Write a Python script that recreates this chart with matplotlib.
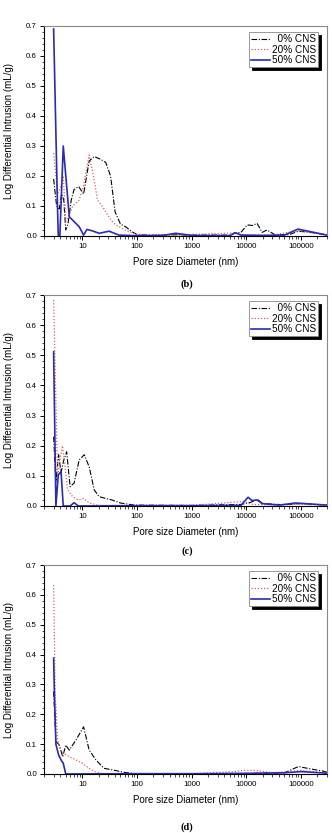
import numpy as np
import matplotlib
matplotlib.use("Agg")
import matplotlib.pyplot as plt
from matplotlib.ticker import FixedLocator, LogLocator, MultipleLocator, NullFormatter

plt.rcParams["font.family"] = ["Liberation Sans", "DejaVu Sans"]

# ---- panel (b) ----
b_x0 = [3.0, 3.4, 3.8, 4.2, 4.6, 5.0, 5.5, 6.3, 7.1, 8.6, 10.6, 13.4, 16.6, 22, 27, 33, 40, 50, 63, 80, 100,
        200, 500, 1000, 5000, 6300, 8000, 10400, 13000, 15800, 19500, 24000, 33000, 60000, 90000, 150000, 300000]
b_y0 = [0.19, 0.10, 0.09, 0.14, 0.12, 0.02, 0.04, 0.12, 0.155, 0.165, 0.14, 0.25, 0.265, 0.255, 0.245, 0.20, 0.08,
        0.04, 0.03, 0.015, 0.005, 0.002, 0.004, 0.003, 0.003, 0.01, 0.012, 0.037, 0.035, 0.042, 0.012, 0.02, 0.005,
        0.004, 0.016, 0.012, 0.003]
b_x20 = [3.0, 3.55, 4.0, 4.5, 5.0, 5.5, 6.7, 8.8, 10.6, 13.4, 16.6, 19, 23.5, 33.5, 41, 60, 100,
         500, 1000, 6000, 10000, 30000, 90000, 300000]
b_y20 = [0.276, 0.142, 0.16, 0.20, 0.05, 0.06, 0.10, 0.12, 0.17, 0.27, 0.187, 0.12, 0.098, 0.053, 0.037, 0.02,
         0.005, 0.004, 0.005, 0.01, 0.003, 0.003, 0.018, 0.004]
b_x50 = [3.0, 3.55, 3.65, 3.9, 4.5, 5.8, 8.8, 10.6, 12.2, 15.4, 20.4, 31, 47, 100, 300, 513, 1000,
         5000, 6300, 8000, 20000, 50000, 88500, 300000]
b_y50 = [0.69, 0.081, 0.0, 0.0, 0.30, 0.064, 0.031, 0.003, 0.022, 0.017, 0.009, 0.016, 0.003, 0.001, 0.002,
         0.009, 0.002, 0.001, 0.011, 0.003, 0.002, 0.003, 0.023, 0.003]

# ---- panel (c) ----
c_x0 = [3.0, 3.3, 3.7, 4.1, 4.6, 5.2, 6.0, 7.1, 8.8, 10.9, 13.4, 16.6, 20.4, 27, 35, 50, 90,
        1000, 8000, 12000, 16000, 20000, 50000, 100000, 300000]
c_y0 = [0.23, 0.08, 0.17, 0.11, 0.153, 0.18, 0.064, 0.076, 0.153, 0.17, 0.13, 0.053, 0.031, 0.025, 0.02,
        0.01, 0.003, 0.002, 0.005, 0.012, 0.022, 0.008, 0.004, 0.008, 0.003]
c_x20 = [3.0, 3.55, 4.0, 4.35, 4.8, 5.4, 6.7, 8.5, 10.6, 13.4, 20, 100, 1000, 9000, 12000, 30000, 100000, 300000]
c_y20 = [0.683, 0.097, 0.164, 0.20, 0.14, 0.053, 0.031, 0.02, 0.025, 0.01, 0.002, 0.002, 0.002, 0.015,
         0.006, 0.003, 0.006, 0.002]
c_x50 = [3.0, 3.3, 3.65, 4.1, 4.5, 6.0, 7.1, 8.5, 100, 1000, 8000, 10800, 12800, 15800, 19500, 40000, 80000,
         300000]
c_y50 = [0.512, 0.0, 0.103, 0.114, 0.0, 0.0, 0.011, 0.0, 0.001, 0.001, 0.002, 0.029, 0.018, 0.02, 0.008,
         0.003, 0.01, 0.003]

# ---- panel (d) ----
d_x0 = [3.0, 3.3, 3.8, 4.4, 5.0, 5.8, 7.7, 10.6, 13.4, 17.8, 25, 40, 60, 100, 1000, 10000, 50000, 90000,
        150000, 250000, 350000]
d_y0 = [0.276, 0.11, 0.097, 0.058, 0.097, 0.08, 0.114, 0.158, 0.08, 0.047, 0.019, 0.012, 0.005, 0.001,
        0.001, 0.002, 0.004, 0.025, 0.017, 0.01, 0.002]
d_x20 = [3.0, 3.2, 3.55, 4.1, 5.8, 7.7, 10.1, 13.4, 17, 25, 1000, 6000, 9000, 15000, 30000, 100000, 350000]
d_y20 = [0.633, 0.27, 0.113, 0.075, 0.058, 0.047, 0.036, 0.019, 0.008, 0.0, 0.001, 0.008, 0.012, 0.012,
         0.004, 0.012, 0.002]
d_x50 = [3.0, 3.1, 3.3, 3.7, 4.1, 4.5, 5.0, 100, 1000, 10000, 50000, 100000, 350000]
d_y50 = [0.388, 0.27, 0.10, 0.064, 0.047, 0.036, 0.0, 0.001, 0.001, 0.002, 0.004, 0.008, 0.002]

panels = [
    ("(b)", (b_x0, b_y0), (b_x20, b_y20), (b_x50, b_y50)),
    ("(c)", (c_x0, c_y0), (c_x20, c_y20), (c_x50, c_y50)),
    ("(d)", (d_x0, d_y0), (d_x20, d_y20), (d_x50, d_y50)),
]
series_labels = ["  0% CNS", "20% CNS", "50% CNS"]
xticks = [10, 100, 1000, 10000, 100000]

W, H = 332, 833
fig = plt.figure(figsize=(W / 100, H / 100), dpi=100)

# pixel boxes: (top, bottom) of each axes, x label centre, panel label centre
boxes = [(26, 236, 262, 284), (295, 506, 532, 551), (565, 774, 800, 827)]
left_px, right_px = 44, 327

for (tag, s0, s20, s50), (top, bot, xl_y, tag_y) in zip(panels, boxes):
    ax = fig.add_axes([left_px / W, 1 - bot / H, (right_px - left_px) / W, (bot - top) / H])
    ax.plot(s0[0], s0[1], color="black", ls=(0, (5, 1.5, 1, 1.5)), lw=0.8, label=series_labels[0])
    ax.plot(s20[0], s20[1], color="#e06060", ls=(0, (1, 1.5)), lw=0.9, label=series_labels[1])
    ax.plot(s50[0], s50[1], color="#2a2ab8", ls="-", lw=1.2, label=series_labels[2])

    ax.set_xscale("log")
    ax.set_xlim(2, 3.0e5)
    ax.set_ylim(0, 0.7)
    ax.xaxis.set_major_locator(FixedLocator(xticks))
    ax.set_xticklabels([str(t) for t in xticks])
    ax.xaxis.set_minor_locator(LogLocator(base=10, subs=np.arange(2, 10), numticks=20))
    ax.xaxis.set_minor_formatter(NullFormatter())
    ax.yaxis.set_major_locator(MultipleLocator(0.1))
    ax.yaxis.set_minor_locator(MultipleLocator(0.02))
    ax.yaxis.set_major_formatter(plt.FuncFormatter(lambda v, p: f"{v:.1f}"))
    ax.tick_params(which="major", direction="out", length=3, width=0.7, labelsize=5.7, pad=2)
    ax.tick_params(which="minor", direction="out", length=1.8, width=0.5)
    for side in ("top", "right"):
        ax.spines[side].set_color("#888888")
        ax.spines[side].set_linewidth(0.8)
    for side in ("left", "bottom"):
        ax.spines[side].set_linewidth(0.8)

    ax.set_ylabel("Log Differential Intrusion (mL/g)", fontsize=7)
    ax.yaxis.label.set_verticalalignment("center")
    ax.yaxis.set_label_coords(-0.125, 0.5)
    fig.text(0.5 * (left_px + right_px) / W, 1 - xl_y / H, "Pore size Diameter (nm)",
             ha="center", va="center", fontsize=7)
    fig.text(0.5 * (left_px + right_px) / W + 0.005, 1 - tag_y / H, tag, ha="center", va="center",
             fontsize=7.5, fontweight="bold", family=["Liberation Serif", "DejaVu Serif"])

    leg = ax.legend(loc="upper right", bbox_to_anchor=(0.968, 0.971), fontsize=7.2, frameon=True,
                    fancybox=False, shadow={"color": "black", "alpha": 1.0, "ox": 2, "oy": -2},
                    handlelength=1.9, handletextpad=0.2, borderpad=0.2, labelspacing=0.05,
                    borderaxespad=0)
    leg.get_frame().set_edgecolor("#888888")
    leg.get_frame().set_linewidth(0.6)

fig.savefig("out.png", dpi=100)
